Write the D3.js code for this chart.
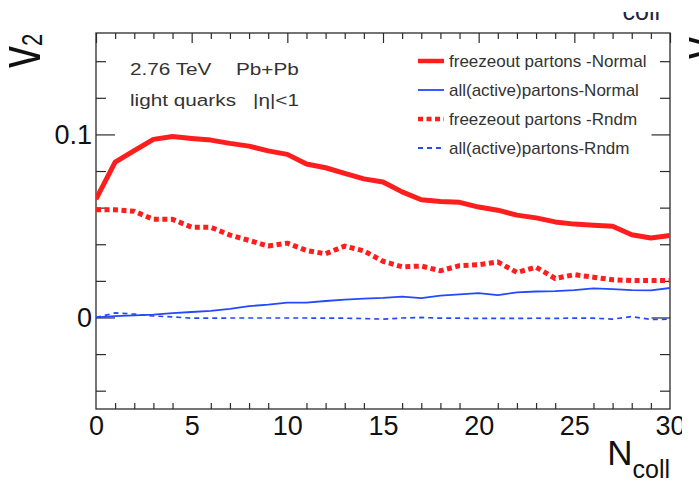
<!DOCTYPE html>
<html>
<head>
<meta charset="utf-8">
<script src="https://cdn.jsdelivr.net/npm/d3@7"></script>
<style>
  html, body { margin: 0; padding: 0; background: #fff; }
  svg { display: block; }
  text { font-family: "Liberation Sans", Arial, Helvetica, sans-serif; }
</style>
</head>
<body>
<script>
// v2 of light quarks versus number of binary collisions
const nColl = [0,1,2,3,4,5,6,7,8,9,10,11,12,13,14,15,16,17,18,19,20,21,22,23,24,25,26,27,28,29,30];

const freezeNormal = [0.0646,0.0849,0.0912,0.0973,0.0989,0.0978,0.0969,0.0951,0.0936,0.0910,0.0891,
  0.0838,0.0818,0.0787,0.0757,0.0740,0.0686,0.0643,0.0634,0.0629,0.0603,0.0586,0.0559,0.0544,
  0.0522,0.0510,0.0504,0.0498,0.0452,0.0434,0.0448];
const allNormal = [0.0000,0.0007,0.0011,0.0015,0.0024,0.0030,0.0036,0.0047,0.0062,0.0070,0.0081,
  0.0081,0.0090,0.0098,0.0103,0.0107,0.0114,0.0106,0.0119,0.0126,0.0133,0.0122,0.0137,0.0142,
  0.0144,0.0149,0.0159,0.0155,0.0149,0.0148,0.0161];
const freezeRndm = [0.0588,0.0588,0.0580,0.0536,0.0536,0.0493,0.0493,0.0450,0.0421,0.0390,0.0406,
  0.0366,0.0348,0.0390,0.0364,0.0307,0.0277,0.0281,0.0255,0.0283,0.0288,0.0303,0.0246,0.0275,
  0.0213,0.0234,0.0220,0.0206,0.0202,0.0202,0.0202];
const allRndm = [0.0000,0.0025,0.0018,0.0008,0.0003,-0.0004,-0.0004,-0.0003,-0.0003,-0.0003,-0.0003,
  -0.0003,-0.0004,-0.0004,-0.0006,-0.0009,-0.0003,0.0000,-0.0004,-0.0004,-0.0005,-0.0005,-0.0005,
  -0.0004,-0.0005,-0.0003,-0.0004,-0.0009,0.0005,-0.0011,-0.0009];

const seriesNames = ["freezeout partons -Normal", "all(active)partons-Normal",
                     "freezeout partons -Rndm", "all(active)partons-Rndm"];

const xMajorTicks = [0,5,10,15,20,25,30];
const yMajorTicks = [0, 0.1];
const yTickLabels = ["0", "0.1"];
const yMinorTicks = [-0.04,-0.02,0.02,0.04,0.06,0.08,0.12,0.14];

const W = 699, H = 482;
const frameL = 96, frameR = 670, frameT = 33, frameB = 409;
const RED = "#ff1e1e", BLUE = "#2449ff", INK = "#2b2b2b";

const svg = d3.select("body").append("svg").attr("width", W).attr("height", H);
svg.append("rect").attr("width", W).attr("height", H).attr("fill", "#fff");

const x = d3.scaleLinear().domain([0, 30]).range([frameL, frameR]);
const y = d3.scaleLinear().domain([-0.05, 0.1554]).range([frameB, frameT]);

const defs = svg.append("defs");
defs.append("clipPath").attr("id", "plotArea")
  .append("rect").attr("x", frameL).attr("y", frameT)
  .attr("width", frameR - frameL).attr("height", frameB - frameT);
defs.append("clipPath").attr("id", "pageCut")
  .append("rect").attr("x", 0).attr("y", 0).attr("width", 682).attr("height", H);
defs.append("clipPath").attr("id", "topCut")
  .append("rect").attr("x", 0).attr("y", 12).attr("width", W).attr("height", 30);

// frame
svg.append("rect").attr("x", frameL).attr("y", frameT)
  .attr("width", frameR - frameL).attr("height", frameB - frameT)
  .attr("fill", "none").attr("stroke", INK).attr("stroke-width", 1.3);

function styleAxis(g) {
  g.select(".domain").remove();
  g.selectAll(".tick line").attr("stroke", INK).attr("stroke-width", 1.2);
  g.selectAll("text").attr("fill", "#111").attr("font-size", 27)
    .attr("font-family", '"Liberation Sans", Arial, sans-serif');
}

const minorX = nColl.filter(v => v % 5 !== 0);

// bottom axis: minor ticks, then major ticks with labels
svg.append("g").attr("transform", `translate(0,${frameB})`)
  .call(d3.axisBottom(x).tickValues(minorX).tickSize(-6).tickFormat(""))
  .call(styleAxis);
svg.append("g").attr("transform", `translate(0,${frameB})`).attr("clip-path", "url(#pageCut)")
  .call(d3.axisBottom(x).tickValues(xMajorTicks).tickSize(-11.5).tickPadding(7).tickFormat(d3.format("d")))
  .call(styleAxis);

// top axis
svg.append("g").attr("transform", `translate(0,${frameT})`)
  .call(d3.axisTop(x).tickValues(minorX).tickSize(-6).tickFormat(""))
  .call(styleAxis);
svg.append("g").attr("transform", `translate(0,${frameT})`)
  .call(d3.axisTop(x).tickValues(xMajorTicks).tickSize(-10).tickFormat(""))
  .call(styleAxis);

// left axis
svg.append("g").attr("transform", `translate(${frameL},0)`)
  .call(d3.axisLeft(y).tickValues(yMinorTicks).tickSize(-10).tickFormat(""))
  .call(styleAxis);
svg.append("g").attr("transform", `translate(${frameL},0)`)
  .call(d3.axisLeft(y).tickValues(yMajorTicks).tickSize(-19).tickPadding(4)
    .tickFormat((d, i) => yTickLabels[i]))
  .call(styleAxis);

// right axis
svg.append("g").attr("transform", `translate(${frameR},0)`)
  .call(d3.axisLeft(y).tickValues(yMinorTicks).tickSize(10).tickFormat(""))
  .call(styleAxis);
svg.append("g").attr("transform", `translate(${frameR},0)`)
  .call(d3.axisLeft(y).tickValues(yMajorTicks).tickSize(18.5).tickFormat(""))
  .call(styleAxis);

// curves
const line = d3.line().x((d, i) => x(nColl[i])).y(d => y(d));
const curves = [
  { values: freezeNormal, color: RED,  width: 5,   dash: null },
  { values: allNormal,    color: BLUE, width: 1.8, dash: null },
  { values: freezeRndm,   color: RED,  width: 5,   dash: "5,3.5" },
  { values: allRndm,      color: BLUE, width: 1.7, dash: "5,4" }
];
const plot = svg.append("g").attr("clip-path", "url(#plotArea)");
plot.selectAll("path.curve").data(curves).join("path")
  .attr("class", "curve")
  .attr("d", c => line(c.values))
  .attr("fill", "none")
  .attr("stroke", c => c.color)
  .attr("stroke-width", c => c.width)
  .attr("stroke-dasharray", c => c.dash)
  .attr("stroke-linejoin", "round");

// legend
const legend = svg.append("g").attr("transform", "translate(418,61)");
const rows = legend.selectAll("g").data(curves).join("g")
  .attr("transform", (d, i) => `translate(0,${i * 29})`);
rows.append("line").attr("x1", 0).attr("x2", 26).attr("y1", 0).attr("y2", 0)
  .attr("stroke", c => c.color)
  .attr("stroke-width", c => c.width === 5 ? 4.5 : 1.8)
  .attr("stroke-dasharray", c => c.dash);
rows.append("text").attr("x", 31).attr("y", 6)
  .attr("font-size", 17).attr("fill", "#333")
  .text((d, i) => seriesNames[i]);

// annotation text, set a little wide
function wideText(tx, ty, str) {
  svg.append("text")
    .attr("transform", `translate(${tx},${ty}) scale(1.22,1)`)
    .attr("font-size", 17).attr("fill", "#333")
    .text(str);
}
wideText(130, 75, "2.76 TeV");
wideText(236, 75, "Pb+Pb");
wideText(130, 106, "light quarks");
wideText(253, 106, "|η|<1");

// axis titles
const xt = svg.append("text").attr("x", 670).attr("y", 465)
  .attr("text-anchor", "end").attr("fill", "#111").attr("font-size", 35);
xt.append("tspan").text("N");
xt.append("tspan").attr("font-size", 25).attr("dy", 13).text("coll");

function vLabel(dx, dy, withIndex) {
  const t = svg.append("text")
    .attr("transform", `translate(${40 + dx},${68 + dy}) rotate(-90) scale(1,1.35)`)
    .attr("fill", "#111").attr("font-size", 44);
  t.append("tspan").text("v");
  if (withIndex) t.append("tspan").attr("font-size", 22).attr("dy", 1.5).text("2");
}
vLabel(0, 0, true);
// edge of the adjacent panel's axis title
vLabel(680, -9, false);

// lower part of the caption above the frame
svg.append("g").attr("clip-path", "url(#topCut)")
  .append("text").attr("x", 660).attr("y", 20).attr("text-anchor", "end")
  .attr("font-size", 25).attr("fill", "#1c2540").text("coll");
</script>
</body>
</html>
